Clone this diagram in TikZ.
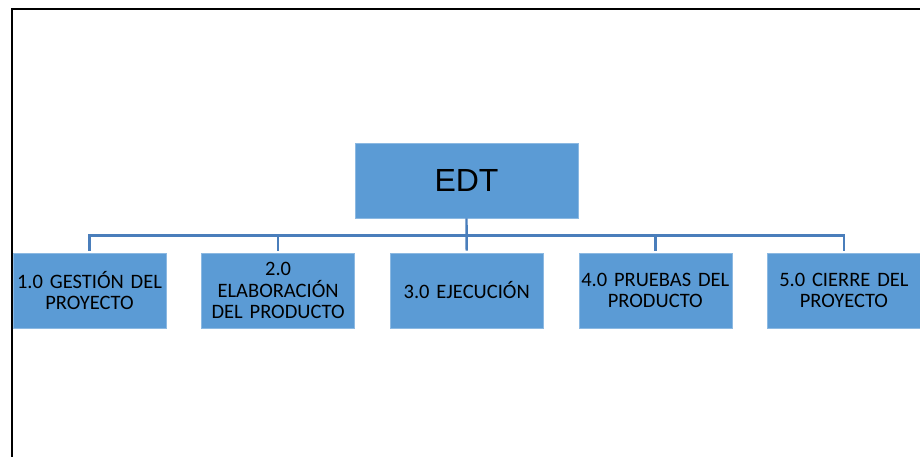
\documentclass[tikz,border=0pt]{standalone}
\usepackage{fontspec}
\setmainfont{Carlito}
\newfontfamily\edtfont{Liberation Sans}
\usetikzlibrary{positioning,calc}

\definecolor{boxblue}{HTML}{5B9BD5}
\definecolor{linkblue}{HTML}{4A7EBB}

\begin{document}
\begin{tikzpicture}[
  x=1pt, y=-1pt,
  every node/.style={font=\fontsize{20.5}{21.5}\selectfont},
  box/.style={fill=boxblue, draw=boxblue!70!white, line width=0.6pt, minimum width=153pt,
              minimum height=75pt, align=center, text width=153pt, inner sep=0pt},
  link/.style={draw=linkblue, line width=2.4pt},
]
\useasboundingbox (0,0) rectangle (920,457);
% open frame
\draw[line width=2pt] (12,457) -- (12,9) -- (920,9);

\node[box, minimum width=223pt, text width=220pt] (edt) at (466.5,180.5)
  {\edtfont\fontsize{32}{36}\selectfont EDT};

\node[box] (c1) at (89.5,290.5) {1.0 GESTIÓN DEL\\PROYECTO};
\node[box, right=35pt of c1] (c2) {2.0\\ELABORACIÓN\\DEL PRODUCTO};
\node[box, right=35pt of c2] (c3) {3.0 EJECUCIÓN};
\node[box, right=35pt of c3] (c4) {4.0 PRUEBAS DEL\\PRODUCTO};
\node[box, right=35pt of c4] (c5) {5.0 CIERRE DEL\\PROYECTO};

% tree connectors
\coordinate (bar) at ($(edt.south)!0.5!(c3.north)$);
\draw[link] (edt.south) -- ([yshift=2pt]c3.north);
\draw[link] ([yshift=2pt]c1.north) -- (c1.north |- bar) -- (c5.north |- bar) -- ([yshift=2pt]c5.north);
\foreach \c in {c2,c4}
  \draw[link] (\c.north |- bar) -- ([yshift=2pt]\c.north);
\end{tikzpicture}
\end{document}
